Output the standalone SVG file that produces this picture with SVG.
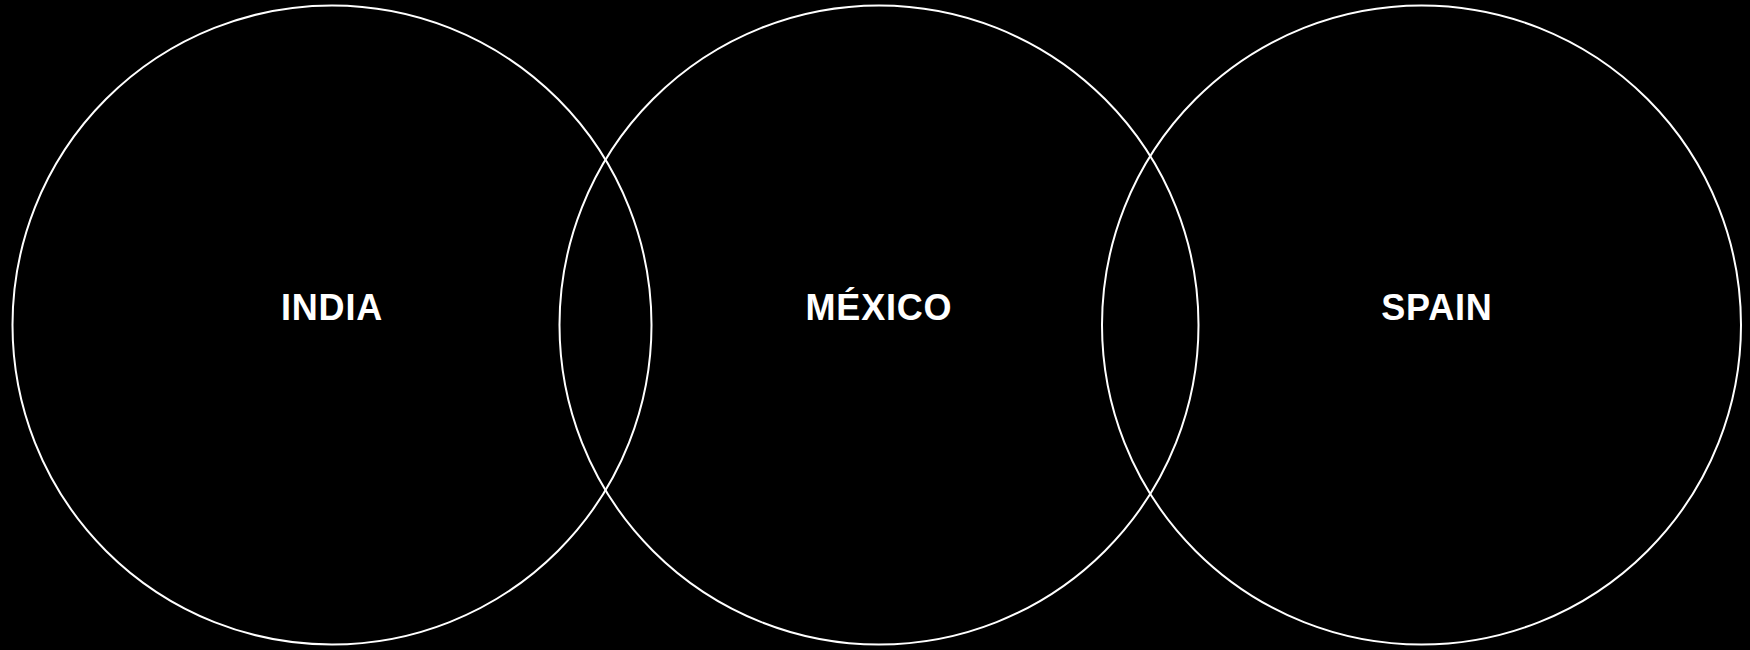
<svg xmlns="http://www.w3.org/2000/svg" width="1750" height="650" viewBox="0 0 1750 650">
<style>
.c{fill:none;stroke:#ffffff;stroke-width:2}
.t{fill:#ffffff;font-family:"Liberation Sans",Arial,sans-serif;font-weight:bold;font-size:36px;letter-spacing:0.8px;text-anchor:middle}
</style>
<rect width="1750" height="650" fill="#000000"/>
<g id="india"><circle class="c" cx="332" cy="325" r="319.5"/><text class="t" x="332" y="320">INDIA</text></g>
<g id="mexico"><circle class="c" cx="879" cy="325" r="319.5"/><text class="t" x="879" y="320">MÉXICO</text></g>
<g id="spain"><circle class="c" cx="1421.5" cy="325" r="319.5"/><text class="t" x="1437" y="320">SPAIN</text></g>
<g id="connectors"/>
</svg>
